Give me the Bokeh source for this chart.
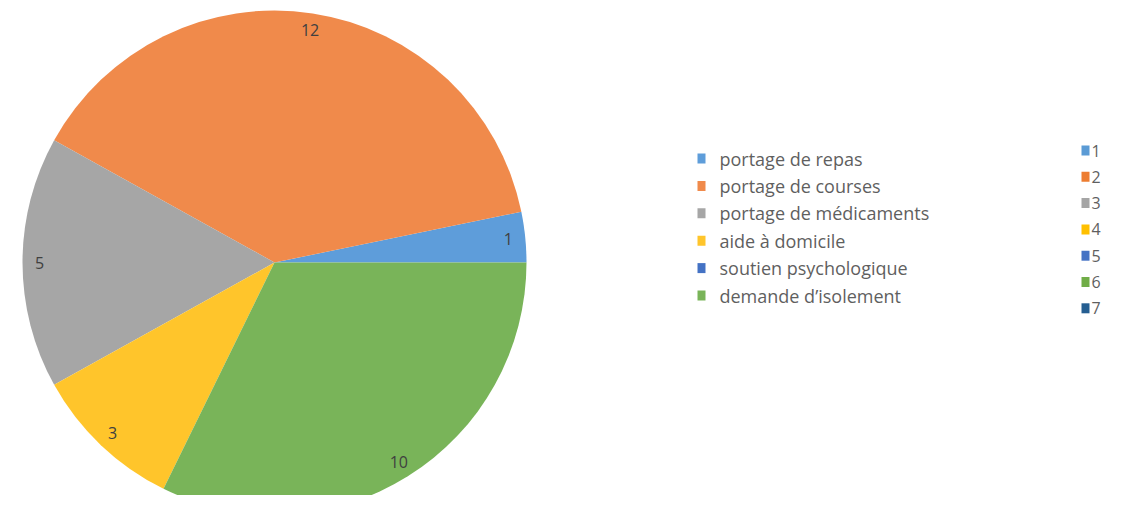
import math
from bokeh.plotting import figure
from bokeh.models import ColumnDataSource
from bokeh.core.properties import value
from bokeh.embed import file_html
from bokeh.resources import INLINE

categories = ["portage de repas", "portage de courses", "portage de médicaments",
              "aide à domicile", "soutien psychologique", "demande d\u2019isolement"]
counts = [1, 12, 5, 3, 0, 10]
slice_colors = ["#5E9DDA", "#F08A4B", "#A6A6A6", "#FFC52B", "#4472C4", "#79B459"]
series_labels = ["1", "2", "3", "4", "5", "6", "7"]
series_colors = ["#5B9BD5", "#ED7D31", "#A5A5A5", "#FFC000", "#4472C4", "#70AD47", "#255E91"]

W, H = 1106, 495
p = figure(width=W, height=H, x_range=(0, W), y_range=(0, H),
           output_backend="svg", toolbar_location=None, min_border=0)
p.axis.visible = False
p.grid.visible = False
p.outline_line_color = None
p.background_fill_color = "white"
p.border_fill_color = "white"

cx, cy, R = 274, 233, 252
total = sum(counts)
wx, wy, ws, we, wc = [], [], [], [], []
lab = dict(x=[], y=[], t=[])
lr = 235
acc = 0.0
for c, col in zip(counts, slice_colors):
    a0 = acc / total * 2 * math.pi
    acc += c
    a1 = acc / total * 2 * math.pi
    if c == 0:
        continue
    wx.append(cx); wy.append(cy); ws.append(a0); we.append(a1); wc.append(col)
    m = (a0 + a1) / 2
    lab["x"].append(cx + lr * math.cos(m))
    lab["y"].append(cy + lr * math.sin(m))
    lab["t"].append(str(c))

src = ColumnDataSource(dict(x=wx, y=wy, start=ws, end=we, color=wc))
p.wedge(x="x", y="y", radius=R, radius_units="screen", start_angle="start",
        end_angle="end", fill_color="color", line_color=None, source=src)

p.text(x="x", y="y", text="t", source=ColumnDataSource(lab), text_align="center",
       text_baseline="middle", text_font=value("Open Sans"), text_font_size="16px",
       text_color="#404040")

# legend of categories
lx, ly0, dy = 701, 337, 27.4
leg = dict(x=[lx] * len(categories), y=[ly0 - i * dy for i in range(len(categories))],
           color=slice_colors, t=categories)
ls = ColumnDataSource(leg)
p.rect(x="x", y="y", width=8, height=10, fill_color="color", line_color=None, source=ls)
p.text(x=lx + 18, y="y", text="t", source=ls, text_baseline="middle",
       text_font=value("Open Sans"), text_font_size="18px", text_color="#5f5f5f")

# legend of series numbers
sx, sy0, sdy = 1085, 345, 26.3
leg2 = dict(x=[sx] * len(series_labels), y=[sy0 - i * sdy for i in range(len(series_labels))],
            color=series_colors, t=series_labels)
ls2 = ColumnDataSource(leg2)
p.rect(x="x", y="y", width=8, height=10, fill_color="color", line_color=None, source=ls2)
p.text(x=sx + 6, y="y", text="t", source=ls2, text_baseline="middle",
       text_font=value("Open Sans"), text_font_size="16px", text_color="#5f5f5f")

open("out.html", "w").write(file_html(p, INLINE))
